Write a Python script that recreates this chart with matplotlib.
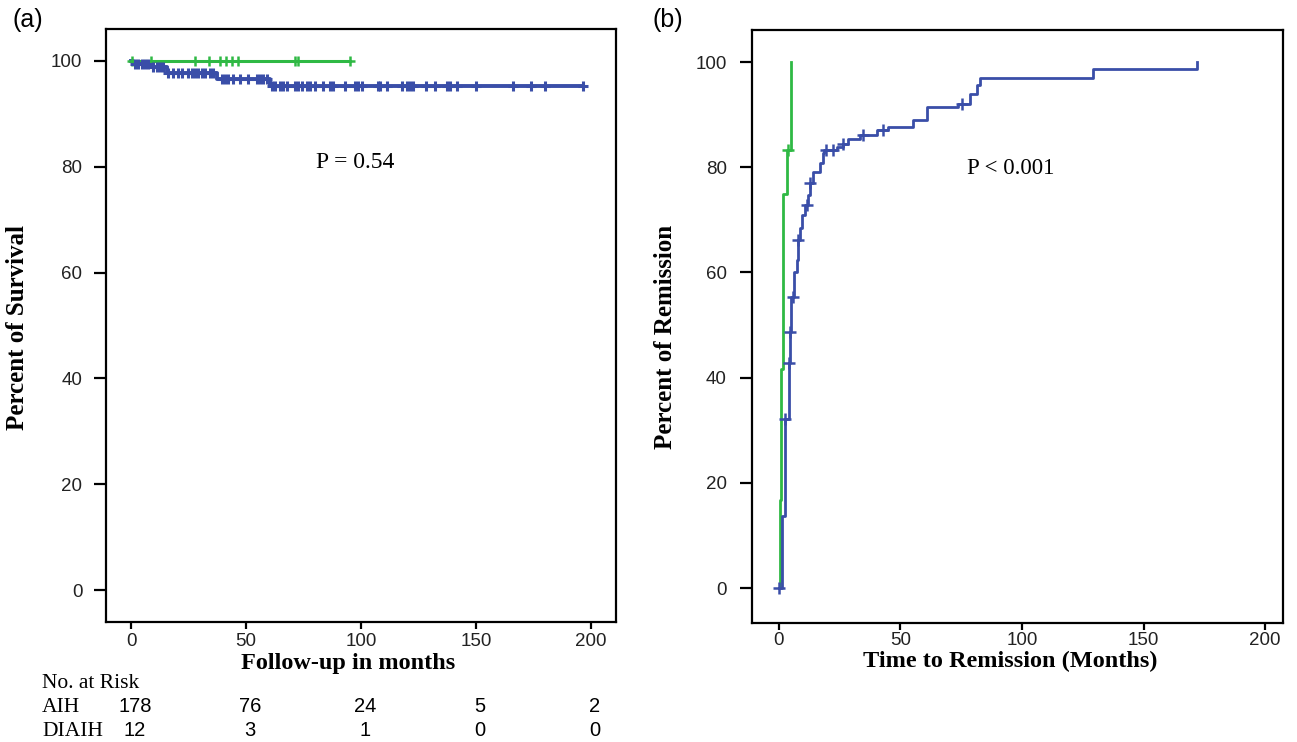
import numpy as np
import matplotlib
matplotlib.use("Agg")
import matplotlib.pyplot as plt
import matplotlib.transforms as mtransforms

# ---------------- data ----------------
# Panel (a): overall survival (Kaplan-Meier)
aih_surv_times = [0, 1.0, 9.0, 15.5, 37.3, 60.4]
aih_surv_values = [100, 99.4, 98.8, 97.7, 96.6, 95.3]
aih_surv_end = 196.7
aih_surv_censor = [1.7, 3.2, 4.6, 6.1, 7.5, 9.7, 11.1, 12.6, 14.1, 16.2, 18.4, 20.6, 22.0,
                   24.9, 26.4, 27.8, 29.3, 30.7, 32.2, 34.3, 35.8, 39.4, 40.9, 42.3, 44.5,
                   47.4, 51.0, 54.6, 56.1, 57.5, 59.0, 61.2, 62.6, 64.8, 66.2, 67.7, 71.3,
                   72.8, 74.2, 76.4, 77.8, 80.0, 83.6, 86.5, 88.0, 93.0, 97.4, 98.8, 100.3,
                   107.5, 108.3, 111.4, 117.7, 120.1, 121.3, 122.7, 128.3, 132.2, 137.5,
                   138.7, 141.6, 149.9, 166.0, 173.8, 180.0, 196.7]

diaih_surv_times = [0]
diaih_surv_values = [100]
diaih_surv_end = 95.2
diaih_surv_censor = [0.3, 8.6, 27.8, 34.1, 38.7, 41.3, 43.8, 46.7, 71.3, 72.7, 95.2]

# Panel (b): cumulative remission
aih_rem_times = [0, 1.1, 2.5, 4.1, 4.5, 4.9, 6.3, 7.3, 8.0, 8.6, 9.6, 10.7, 11.8, 12.8,
                 14.1, 16.9, 18.2, 18.6, 23.7, 26.5, 28.5, 33.3, 40.2, 45.0, 55.3, 60.8,
                 73.8, 78.6, 81.4, 82.7, 129.3, 172.0]
aih_rem_values = [0, 13.6, 32.1, 42.7, 48.7, 55.4, 60.1, 62.4, 66.2, 68.4, 70.9, 72.8, 74.7,
                  77.0, 79.1, 80.8, 82.7, 83.3, 83.8, 84.4, 85.3, 86.1, 87.1, 87.7, 89.0,
                  91.5, 92.1, 94.0, 95.6, 96.9, 98.6, 100.0]
aih_rem_censor = [0, 2.5, 4.1, 4.5, 5.9, 8.0, 11.4, 12.9, 19.2, 22.4, 26.5, 34.7, 42.9, 75.2]

diaih_rem_times = [0, 0.3, 1.0, 1.7, 3.2, 4.8]
diaih_rem_values = [0, 16.7, 41.7, 75.0, 83.3, 100.0]
diaih_rem_censor = [3.8]

# Number at risk table
risk_times = [0, 50, 100, 150, 200]
risk_aih = [178, 76, 24, 5, 2]
risk_diaih = [12, 3, 1, 0, 0]

x_ticks = [0, 50, 100, 150, 200]
y_ticks = [0, 20, 40, 60, 80, 100]

# ---------------- style ----------------
GREEN = "#2fb944"
BLUE = "#3a4ea8"
SANS = "Liberation Sans"
SERIF = "Liberation Serif"


def step_value(times, values, t):
    idx = np.searchsorted(np.asarray(times), t, side="right") - 1
    return np.asarray(values)[np.clip(idx, 0, len(values) - 1)]


def draw_km(ax, times, values, end, censor, color, lw, ms, mew):
    t = list(times)
    v = list(values)
    if end is not None and end > t[-1]:
        t.append(end)
        v.append(v[-1])
    ax.step(t, v, where="post", color=color, lw=lw, zorder=3)
    c = np.asarray(censor)
    ax.plot(c, step_value(times, values, c), ls="none", marker="+", ms=ms,
            mew=mew, color=color, zorder=4)


def style_axes(ax, xpad, ypad):
    for s in ax.spines.values():
        s.set_linewidth(1.6)
        s.set_color("black")
    ax.set_xticks(x_ticks)
    ax.set_yticks(y_ticks)
    ax.tick_params(direction="out", width=1.6, labelsize=13.5, labelcolor="#222222")
    ax.tick_params(axis="y", length=9, pad=ypad)
    ax.tick_params(axis="x", length=5, pad=xpad)
    for lab in ax.get_xticklabels() + ax.get_yticklabels():
        lab.set_fontfamily(SANS)


fig = plt.figure(figsize=(12.97, 7.42), dpi=100)

# ---------- panel (a) ----------
ax1 = fig.add_axes([106 / 1297, 1 - 622 / 742, 510 / 1297, 593 / 742])
draw_km(ax1, diaih_surv_times, diaih_surv_values, diaih_surv_end, diaih_surv_censor,
        GREEN, 2.2, 7, 1.8)
draw_km(ax1, aih_surv_times, aih_surv_values, aih_surv_end, aih_surv_censor,
        BLUE, 2.8, 7, 2.2)
ax1.set_xlim(-10.9, 210.9)
ax1.set_ylim(-6.0, 106.0)
style_axes(ax1, 3, 8)
ax1.set_xlabel("Follow-up in months", fontfamily=SERIF, fontweight="bold",
               fontsize=17.5, va="center")
ax1.xaxis.set_label_coords((348 - 106) / 510, (622 - 663) / 593)
ax1.set_ylabel("Percent of Survival", fontfamily=SERIF, fontweight="bold",
               fontsize=18, va="center")
ax1.yaxis.set_label_coords((18 - 106) / 510, (622 - 328) / 593)
ax1.text((355 - 106) / 510, (622 - 163) / 593, "P = 0.54", transform=ax1.transAxes,
         fontfamily=SERIF, fontsize=17, ha="center", va="center")

# number at risk table
fig.text(42 / 1297, 1 - 683 / 742, "No. at Risk", fontfamily=SERIF, fontsize=15.5,
         ha="left", va="center")
fig.text(42 / 1297, 1 - 707 / 742, "AIH", fontfamily=SERIF, fontsize=15.5,
         ha="left", va="center")
fig.text(42 / 1297, 1 - 731 / 742, "DIAIH", fontfamily=SERIF, fontsize=15.5,
         ha="left", va="center")
offs = mtransforms.offset_copy(ax1.transData, fig=fig, x=4, y=0, units="dots")
blend = mtransforms.blended_transform_factory(offs, fig.transFigure)
for t, a, d in zip(risk_times, risk_aih, risk_diaih):
    ax1.text(t, 1 - 707 / 742, str(a), transform=blend, fontfamily=SANS, fontsize=14.5,
             ha="center", va="center", clip_on=False)
    ax1.text(t, 1 - 731 / 742, str(d), transform=blend, fontfamily=SANS, fontsize=14.5,
             ha="center", va="center", clip_on=False)

# ---------- panel (b) ----------
ax2 = fig.add_axes([752 / 1297, 1 - 623 / 742, 531 / 1297, 593 / 742])
draw_km(ax2, diaih_rem_times, diaih_rem_values, None, diaih_rem_censor, GREEN, 2.0, 9, 1.8)
draw_km(ax2, aih_rem_times, aih_rem_values, None, aih_rem_censor, BLUE, 2.0, 9, 1.8)
ax2.set_xlim(-11.1, 207.4)
ax2.set_ylim(-6.65, 106.1)
style_axes(ax2, 1.5, 9)
ax2.set_xlabel("Time to Remission (Months)", fontfamily=SERIF, fontweight="bold",
               fontsize=17.5, va="center")
ax2.xaxis.set_label_coords((1010 - 752) / 531, (623 - 661) / 593)
ax2.set_ylabel("Percent of Remission", fontfamily=SERIF, fontweight="bold",
               fontsize=18, va="center")
ax2.yaxis.set_label_coords((666 - 752) / 531, (623 - 337) / 593)
ax2.text((1011 - 752) / 531, (623 - 168) / 593, "P < 0.001", transform=ax2.transAxes,
         fontfamily=SERIF, fontsize=16.5, ha="center", va="center")

fig.text(28 / 1297, 1 - 20 / 742, "(a)", fontfamily=SANS, fontsize=18,
         ha="center", va="center")
fig.text(668 / 1297, 1 - 20 / 742, "(b)", fontfamily=SANS, fontsize=18,
         ha="center", va="center")

fig.savefig("out.png", dpi=100)
